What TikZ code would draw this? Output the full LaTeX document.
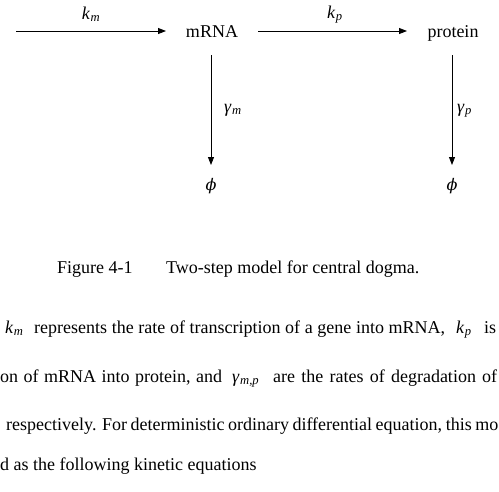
\documentclass[tikz,border=0pt]{standalone}
\usepackage{fontspec}
\setmainfont{Liberation Serif}
\newfontfamily\phifont{DejaVu Serif}
\usetikzlibrary{arrows.meta}
\newcommand\vsym[2]{\textit{#1}\textsubscript{\kern0.5pt\textit{#2}}}
\begin{document}
\begin{tikzpicture}[x=1pt,y=-1pt,
  txt/.style={inner sep=0pt,anchor=base west,font=\fontsize{18}{21}\selectfont},
  ctr/.style={inner sep=0pt,anchor=base,font=\fontsize{18}{21}\selectfont},
  arr/.style={line width=0.9pt,-{Triangle[length=8pt,width=6pt]}}]
\path[use as bounding box,clip] (0,0) rectangle (499,491);
% diagram
\coordinate (s) at (16,31);
\node[ctr] (mrna) at (212,37) {mRNA};
\node[ctr] (prot) at (453,37) {protein};
\node[ctr] (phi1) at (211,190) {{\phifont\fontsize{16}{19}\selectfont\itshape ϕ}};
\node[ctr] (phi2) at (452,190) {{\phifont\fontsize{16}{19}\selectfont\itshape ϕ}};
\draw[arr] (s) -- (166,31) coordinate (e1);
\draw[arr] (258,31) coordinate (s2) -- (407,31) coordinate (e2);
\draw[arr] (211,55) coordinate (s3) -- (211,165) coordinate (e3);
\draw[arr] (452,55) coordinate (s4) -- (452,165) coordinate (e4);
\node[ctr] (km) at (91,19) {\vsym{k}{m}};
\node[ctr] (kp) at (335,18) {\vsym{k}{p}};
\node[txt] (gm) at (224,112) {\vsym{γ}{m}};
\node[txt] (gp) at (457,112) {\vsym{γ}{p}};
% caption
\node[txt] (cap1) at (57,273) {Figure 4-1};
\node[txt] (cap2) at (166,273) {Two-step model for central dogma.};
% paragraph
\node[txt] (l1a) at (5,333) {\vsym{k}{m}};
\node[txt] (l1b) at (34,333) {\makebox[411pt][s]{represents the rate of transcription of a gene into mRNA,}};
\node[txt] (l1c) at (456,333) {\vsym{k}{p}};
\node[txt] (l1d) at (484,333) {is};
\node[txt] (l2a) at (0,382) {\makebox[222pt][s]{on of mRNA into protein, and}};
\node[txt] (l2b) at (232,382) {\vsym{γ}{m,p}};
\node[txt] (l2c) at (273,382) {\makebox[224pt][s]{are the rates of degradation of}};
\node[txt] (l3) at (6,430) {\makebox[492pt][s]{respectively. For deterministic ordinary differential equation, this mo}};
\node[txt] (l4) at (0,470) {d as the following kinetic equations};
\end{tikzpicture}
\end{document}
